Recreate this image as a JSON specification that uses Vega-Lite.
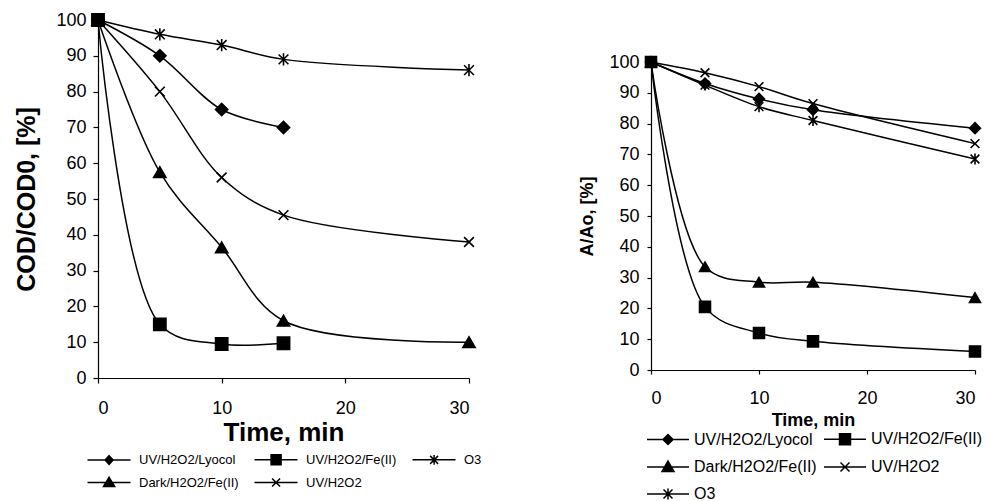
{
  "$schema": "https://vega.github.io/schema/vega-lite/v6.json",
  "padding": {"left": 14, "top": 10, "right": 5, "bottom": 5},
  "background": "white",
  "config": {
    "font": "Liberation Sans",
    "view": {"stroke": null},
    "axis": {"grid": false, "domainColor": "black", "tickColor": "black", "labelColor": "black", "titleColor": "black", "domainWidth": 1.2, "tickWidth": 1.2},
    "legend": {"labelColor": "black", "layout": {"bottom": {"anchor": "middle"}}}
  },
  "datasets": {
    "cod": [
      {"series": "UV/H2O2/Lyocol", "t": 0, "v": 100},
      {"series": "UV/H2O2/Lyocol", "t": 5, "v": 90},
      {"series": "UV/H2O2/Lyocol", "t": 10, "v": 75},
      {"series": "UV/H2O2/Lyocol", "t": 15, "v": 70},
      {"series": "UV/H2O2/Fe(II)", "t": 0, "v": 100},
      {"series": "UV/H2O2/Fe(II)", "t": 5, "v": 15},
      {"series": "UV/H2O2/Fe(II)", "t": 10, "v": 9.5},
      {"series": "UV/H2O2/Fe(II)", "t": 15, "v": 9.7},
      {"series": "O3", "t": 0, "v": 100},
      {"series": "O3", "t": 5, "v": 96},
      {"series": "O3", "t": 10, "v": 93},
      {"series": "O3", "t": 15, "v": 89},
      {"series": "O3", "t": 30, "v": 86},
      {"series": "Dark/H2O2/Fe(II)", "t": 0, "v": 100},
      {"series": "Dark/H2O2/Fe(II)", "t": 5, "v": 57.5},
      {"series": "Dark/H2O2/Fe(II)", "t": 10, "v": 36.5},
      {"series": "Dark/H2O2/Fe(II)", "t": 15, "v": 16},
      {"series": "Dark/H2O2/Fe(II)", "t": 30, "v": 10},
      {"series": "UV/H2O2", "t": 0, "v": 100},
      {"series": "UV/H2O2", "t": 5, "v": 80},
      {"series": "UV/H2O2", "t": 10, "v": 56},
      {"series": "UV/H2O2", "t": 15, "v": 45.5},
      {"series": "UV/H2O2", "t": 30, "v": 38}
    ],
    "abs": [
      {"series": "UV/H2O2/Lyocol", "t": 0, "v": 100},
      {"series": "UV/H2O2/Lyocol", "t": 5, "v": 93},
      {"series": "UV/H2O2/Lyocol", "t": 10, "v": 88},
      {"series": "UV/H2O2/Lyocol", "t": 15, "v": 84.5},
      {"series": "UV/H2O2/Lyocol", "t": 30, "v": 78.5},
      {"series": "UV/H2O2/Fe(II)", "t": 0, "v": 100},
      {"series": "UV/H2O2/Fe(II)", "t": 5, "v": 20.5},
      {"series": "UV/H2O2/Fe(II)", "t": 10, "v": 12},
      {"series": "UV/H2O2/Fe(II)", "t": 15, "v": 9.3},
      {"series": "UV/H2O2/Fe(II)", "t": 30, "v": 6},
      {"series": "Dark/H2O2/Fe(II)", "t": 0, "v": 100},
      {"series": "Dark/H2O2/Fe(II)", "t": 5, "v": 33.5},
      {"series": "Dark/H2O2/Fe(II)", "t": 10, "v": 28.5},
      {"series": "Dark/H2O2/Fe(II)", "t": 15, "v": 28.5},
      {"series": "Dark/H2O2/Fe(II)", "t": 30, "v": 23.5},
      {"series": "UV/H2O2", "t": 0, "v": 100},
      {"series": "UV/H2O2", "t": 5, "v": 96.5},
      {"series": "UV/H2O2", "t": 10, "v": 92},
      {"series": "UV/H2O2", "t": 15, "v": 86.5},
      {"series": "UV/H2O2", "t": 30, "v": 73.5},
      {"series": "O3", "t": 0, "v": 100},
      {"series": "O3", "t": 5, "v": 92.5},
      {"series": "O3", "t": 10, "v": 85.5},
      {"series": "O3", "t": 15, "v": 81},
      {"series": "O3", "t": 30, "v": 68.5}
    ]
  },
  "resolve": {"scale": {"shape": "independent"}, "legend": {"shape": "independent"}},
  "spacing": 96,
  "hconcat": [
    {
      "width": 371,
      "height": 358,
      "data": {"name": "cod"},
      "encoding": {
        "x": {
          "field": "t", "type": "quantitative",
          "scale": {"domain": [0, 30], "nice": false},
          "axis": {"title": "Time, min", "values": [0, 10, 20, 30], "labelFontSize": 18, "tickSize": 5, "labelPadding": 16, "titleFontSize": 26, "titleFontWeight": "bold", "titlePadding": 2}
        },
        "y": {
          "field": "v", "type": "quantitative",
          "scale": {"domain": [0, 100], "nice": false},
          "axis": {"title": "COD/COD0, [%]", "values": [0, 10, 20, 30, 40, 50, 60, 70, 80, 90, 100], "labelFontSize": 18, "tickSize": 5, "labelPadding": 7, "titleFontSize": 25, "titleFontWeight": "bold", "titlePadding": 16}
        }
      },
      "resolve": {"scale": {"shape": "independent"}, "legend": {"shape": "independent"}},
      "layer": [
        {
          "mark": {"type": "line", "interpolate": "catmull-rom", "color": "black", "strokeWidth": 1.5},
          "encoding": {"detail": {"field": "series"}}
        },
        {
          "mark": {"type": "point", "filled": true, "color": "black", "stroke": "black", "strokeWidth": 1.6, "size": 150, "opacity": 1},
          "encoding": {
            "shape": {
              "field": "series", "type": "nominal",
              "scale": {
                "domain": ["UV/H2O2/Lyocol", "UV/H2O2/Fe(II)", "O3", "Dark/H2O2/Fe(II)", "UV/H2O2"],
                "range": ["diamond", "square", "M-0.8,-0.8L0.8,0.8M-0.8,0.8L0.8,-0.8M0,-1L0,1", "triangle-up", "M-0.8,-0.8L0.8,0.8M-0.8,0.8L0.8,-0.8"]
              },
              "legend": null
            }
          }
        },
        {
          "transform": [{"filter": "false"}],
          "mark": {"type": "point", "filled": true, "color": "black", "stroke": "black", "strokeWidth": 1.3, "opacity": 1},
          "encoding": {
            "shape": {
              "field": "series", "type": "nominal",
              "scale": {
                "domain": ["UV/H2O2/Lyocol", "UV/H2O2/Fe(II)", "O3", "Dark/H2O2/Fe(II)", "UV/H2O2"],
                "range": [
                  "M-1,0L9.75,0M4.4,-1.1L5.4,0L4.4,1.1L3.4,0Z",
                  "M-1,0L9.75,0M3.15,-1.25L5.65,-1.25L5.65,1.25L3.15,1.25Z",
                  "M-1,0L9.75,0M3.4,-1L5.4,1M3.4,1L5.4,-1M4.4,-1.2L4.4,1.2",
                  "M-1,0L9.75,0M4.4,-1.3L5.8,1L3,1Z",
                  "M-1,0L9.75,0M3.4,-1L5.4,1M3.4,1L5.4,-1"
                ]
              },
              "legend": {
                "title": null, "orient": "bottom", "direction": "horizontal", "columns": 3, "labelFontSize": 13, "symbolSize": 64, "labelOffset": 41, "offset": 8, "rowPadding": 6, "columnPadding": 12,
                "encode": {"symbols": {"update": {"fill": {"value": "black"}, "stroke": {"value": "black"}, "strokeWidth": {"value": 1.3}}}}
              }
            }
          }
        }
      ]
    },
    {
      "spacing": 0,
      "vconcat": [
        {
          "width": 324,
          "height": 33,
          "data": {"values": [{"a": 1}]},
          "mark": {"type": "text", "text": ""},
          "encoding": {}
        },
        {
          "width": 324,
          "height": 308,
          "data": {"name": "abs"},
          "encoding": {
            "x": {
              "field": "t", "type": "quantitative",
              "scale": {"domain": [0, 30], "nice": false},
              "axis": {"title": "Time, min", "values": [0, 10, 20, 30], "labelFontSize": 18, "tickSize": 4, "labelPadding": 15, "titleFontSize": 18, "titleFontWeight": "bold", "titlePadding": 4}
            },
            "y": {
              "field": "v", "type": "quantitative",
              "scale": {"domain": [0, 100], "nice": false},
              "axis": {"title": "A/Ao, [%]", "values": [0, 10, 20, 30, 40, 50, 60, 70, 80, 90, 100], "labelFontSize": 18, "tickSize": 4, "labelPadding": 8, "titleFontSize": 18, "titleFontWeight": "bold", "titlePadding": 12}
            }
          },
          "resolve": {"scale": {"shape": "independent"}, "legend": {"shape": "independent"}},
          "layer": [
            {
              "mark": {"type": "line", "interpolate": "catmull-rom", "color": "black", "strokeWidth": 1.5},
              "encoding": {"detail": {"field": "series"}}
            },
            {
              "mark": {"type": "point", "filled": true, "color": "black", "stroke": "black", "strokeWidth": 1.6, "size": 120, "opacity": 1},
              "encoding": {
                "shape": {
                  "field": "series", "type": "nominal",
                  "scale": {
                    "domain": ["UV/H2O2/Lyocol", "UV/H2O2/Fe(II)", "Dark/H2O2/Fe(II)", "UV/H2O2", "O3"],
                    "range": ["diamond", "square", "triangle-up", "M-0.8,-0.8L0.8,0.8M-0.8,0.8L0.8,-0.8", "M-0.8,-0.8L0.8,0.8M-0.8,0.8L0.8,-0.8M0,-1L0,1"]
                  },
                  "legend": null
                }
              }
            },
            {
              "transform": [{"filter": "false"}],
              "mark": {"type": "point", "filled": true, "color": "black", "stroke": "black", "strokeWidth": 1.5, "opacity": 1},
              "encoding": {
                "shape": {
                  "field": "series", "type": "nominal",
                  "scale": {
                    "domain": ["UV/H2O2/Lyocol", "UV/H2O2/Fe(II)", "Dark/H2O2/Fe(II)", "UV/H2O2", "O3"],
                    "range": [
                      "M-1,0L7.4,0M3.2,-1L4.2,0L3.2,1L2.2,0Z",
                      "M-1,0L7.4,0M2.1,-1.1L4.3,-1.1L4.3,1.1L2.1,1.1Z",
                      "M-1,0L7.4,0M3.2,-1.2L4.4,0.9L2,0.9Z",
                      "M-1,0L7.4,0M2.3,-0.9L4.1,0.9M2.3,0.9L4.1,-0.9",
                      "M-1,0L7.4,0M2.3,-0.9L4.1,0.9M2.3,0.9L4.1,-0.9M3.2,-1.1L3.2,1.1"
                    ]
                  },
                  "legend": {
                    "title": null, "orient": "bottom", "direction": "horizontal", "columns": 2, "labelFontSize": 16, "symbolSize": 100, "labelOffset": 34, "offset": 2, "rowPadding": 10, "columnPadding": 4,
                    "encode": {"symbols": {"update": {"fill": {"value": "black"}, "stroke": {"value": "black"}, "strokeWidth": {"value": 1.5}}}}
                  }
                }
              }
            }
          ]
        }
      ]
    }
  ]
}
